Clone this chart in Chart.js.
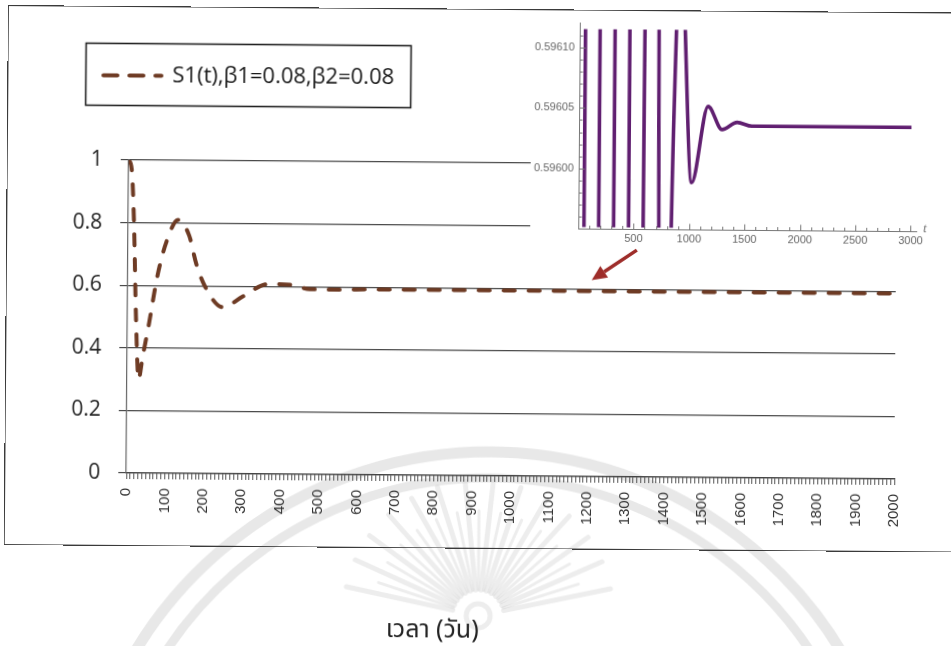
<!DOCTYPE html>
<html>
<head>
<meta charset="utf-8">
<title>S1(t)</title>
<script src="https://cdn.jsdelivr.net/npm/chart.js@4.4.1/dist/chart.umd.min.js"></script>
<style>
  html, body { margin: 0; padding: 0; background: #fff; width: 951px; height: 646px; overflow: hidden; }
  #page { position: absolute; left: 0; top: 0; width: 951px; height: 646px; transform: rotate(0.45deg); transform-origin: 0 0; }
  #main { position: absolute; left: 0; top: 0; }
  #inset { position: absolute; left: 516px; top: 4px; }
  #frame { position: absolute; left: 8px; top: 5px; width: 960px; height: 540px; box-sizing: border-box; border: 1.5px solid #3a3a3a; pointer-events: none; }
</style>
</head>
<body>
<div id="page">
  <canvas id="main" width="951" height="646"></canvas>
  <canvas id="inset" width="435" height="238"></canvas>
  <div id="frame"></div>
</div>
<script>
// ---------- main plot: S1(t) over 0..2000 days ----------
const timeDays = [0, 8, 15, 22, 30, 40, 55, 77, 100, 130, 159, 178, 202, 248, 300, 365, 426, 474, 540, 650, 900, 1300, 1700, 2000];
const s1Values = [1, 0.97, 0.8, 0.5, 0.30, 0.37, 0.47, 0.63, 0.74, 0.81, 0.76, 0.67, 0.596, 0.532, 0.567, 0.607, 0.605, 0.592, 0.591, 0.593, 0.593, 0.593, 0.593, 0.593];
const mainYTicks = [0, 0.2, 0.4, 0.6, 0.8, 1];
const mainXLabels = [0, 100, 200, 300, 400, 500, 600, 700, 800, 900, 1000, 1100, 1200, 1300, 1400, 1500, 1600, 1700, 1800, 1900, 2000];
const seriesLabel = 'S1(t),β1=0.08,β2=0.08';
const axisTitle = 'เวลา (วัน)';

// arrow from the inset down to the settled part of the curve (data coordinates)
const arrowFrom = [1325, 0.725];
const arrowTo = [1208, 0.628];

// ---------- inset: fine detail of S1(t) around its equilibrium, 0..3000 days ----------
const insetTime = [0, 52, 103, 184, 237, 319, 371, 453, 505, 587, 639, 720, 773, 855, 905, 1019, 1164, 1291, 1427, 1560, 3000];
const insetValues = [0.45, 0.59604, 0.726, 0.59604, 0.554, 0.59604, 0.6095, 0.59604, 0.5917, 0.59604, 0.59744, 0.59604, 0.5956, 0.59604, 0.59619, 0.595989, 0.596052, 0.596033, 0.596039, 0.596036, 0.596036];
const insetXLabels = [500, 1000, 1500, 2000, 2500, 3000];
const insetYLabels = [0.596, 0.59605, 0.5961];

// ---------- layout ----------
const MAIN_AREA = { left: 130, top: 159, right: 898, bottom: 472 };
const INSET_AREA = { left: 64, top: 14.5, right: 402, bottom: 220.5 };
const INSET_PANEL_LEFT = 16;   // white panel starts here inside the inset canvas
const LEGEND_FRAME = { left: 86, top: 42, right: 411, bottom: 104 };
const LEGEND_FONT = 22;
const LEGEND_PAD = 10;

Chart.defaults.font.family = "'Open Sans', 'Noto Sans', sans-serif";

function fitArea(chart, want) {
  for (let i = 0; i < 3; i++) {
    const a = chart.chartArea;
    const p = Object.assign({}, chart.options.layout.padding);
    p.left += want.left - a.left;
    p.top += want.top - a.top;
    p.right += a.right - want.right;
    p.bottom += a.bottom - want.bottom;
    chart.options.layout.padding = p;
    chart.update();
  }
}

function drawWatermark(ctx) {
  ctx.save();
  ctx.strokeStyle = 'rgba(200,200,200,0.42)';
  ctx.lineCap = 'round';
  ctx.lineWidth = 11;
  ctx.beginPath(); ctx.arc(495, 860, 412, Math.PI * 1.02, Math.PI * 1.98); ctx.stroke();
  ctx.lineWidth = 9;
  ctx.beginPath(); ctx.arc(495, 860, 386, Math.PI * 1.02, Math.PI * 1.98); ctx.stroke();
  // sun rays behind the axis caption
  ctx.strokeStyle = 'rgba(200,200,200,0.32)';
  const cx = 483, cy = 612;
  for (let a = 192; a <= 348; a += 6) {
    const r = a * Math.PI / 180;
    const r2 = (a % 12 === 0) ? 135 : 105;
    ctx.lineWidth = (a % 12 === 0) ? 5 : 3;
    ctx.beginPath();
    ctx.moveTo(cx + Math.cos(r) * 26, cy + Math.sin(r) * 26);
    ctx.lineTo(cx + Math.cos(r) * r2, cy + Math.sin(r) * r2);
    ctx.stroke();
  }
  ctx.lineWidth = 5;
  ctx.beginPath(); ctx.arc(cx, cy, 12, 0, Math.PI * 2); ctx.stroke();
  ctx.restore();
}

const mainDecor = {
  id: 'mainDecor',
  beforeDraw(chart) {
    drawWatermark(chart.ctx);
  },
  afterLayout(chart) {
    const lg = chart.legend;
    if (!lg) return;
    const w = lg.width, h = lg.height;
    lg.left = LEGEND_FRAME.left + 18 - LEGEND_PAD;
    lg.top = (LEGEND_FRAME.top + LEGEND_FRAME.bottom) / 2 + 1.5 - LEGEND_PAD - LEGEND_FONT / 2;
    lg.right = lg.left + w;
    lg.bottom = lg.top + h;
  },
  afterDraw(chart) {
    const ctx = chart.ctx;
    const xs = chart.scales.x, ys = chart.scales.y;
    ctx.save();
    // legend frame
    ctx.strokeStyle = '#222';
    ctx.lineWidth = 1.6;
    ctx.strokeRect(LEGEND_FRAME.left + 0.5, LEGEND_FRAME.top + 0.5,
      LEGEND_FRAME.right - LEGEND_FRAME.left, LEGEND_FRAME.bottom - LEGEND_FRAME.top);
    // arrow
    const x1 = xs.getPixelForValue(arrowFrom[0]), y1 = ys.getPixelForValue(arrowFrom[1]);
    const x2 = xs.getPixelForValue(arrowTo[0]), y2 = ys.getPixelForValue(arrowTo[1]);
    const ang = Math.atan2(y2 - y1, x2 - x1);
    const head = 15, half = 7;
    const bx = x2 - Math.cos(ang) * head, by = y2 - Math.sin(ang) * head;
    ctx.strokeStyle = '#9e2d2a';
    ctx.fillStyle = '#9e2d2a';
    ctx.lineWidth = 3.5;
    ctx.beginPath(); ctx.moveTo(x1, y1); ctx.lineTo(bx, by); ctx.stroke();
    ctx.beginPath();
    ctx.moveTo(x2, y2);
    ctx.lineTo(bx + Math.sin(ang) * half, by - Math.cos(ang) * half);
    ctx.lineTo(bx - Math.sin(ang) * half, by + Math.cos(ang) * half);
    ctx.closePath(); ctx.fill();
    // axis caption
    ctx.fillStyle = '#222';
    ctx.font = "25px 'Noto Sans Thai', Tahoma, Loma, 'Noto Sans', sans-serif";
    ctx.textAlign = 'center';
    ctx.textBaseline = 'middle';
    ctx.fillText(axisTitle, xs.getPixelForValue(800), 629);
    ctx.restore();
  }
};

const mainChart = new Chart(document.getElementById('main'), {
  type: 'line',
  data: {
    datasets: [{
      label: seriesLabel,
      data: timeDays.map((t, i) => ({ x: t, y: s1Values[i] })),
      borderColor: '#6e3b24',
      backgroundColor: '#6e3b24',
      borderWidth: 4,
      borderDash: [11, 14],
      borderCapStyle: 'round',
      pointRadius: 0,
      cubicInterpolationMode: 'monotone',
      fill: false
    }]
  },
  options: {
    responsive: false,
    devicePixelRatio: 1,
    animation: false,
    events: [],
    layout: { padding: { left: 60, top: 100, right: 40, bottom: 90 } },
    scales: {
      x: {
        type: 'linear',
        min: 0,
        max: 2000,
        afterBuildTicks(scale) {
          const marks = [];
          for (let t = 0; t <= 2000; t += 10) marks.push({ value: t });
          scale.ticks = marks;
        },
        ticks: {
          autoSkip: false,
          minRotation: 90,
          maxRotation: 90,
          padding: 9,
          color: '#333',
          font: { family: "'Liberation Sans', Arial, sans-serif", size: 15 },
          callback: (v) => (mainXLabels.includes(v) ? String(v) : '')
        },
        grid: { drawOnChartArea: false, drawTicks: true, tickLength: 6, color: '#555', lineWidth: 1 },
        border: { display: true, color: '#444', width: 1.2 }
      },
      y: {
        min: 0,
        max: 1,
        afterBuildTicks(scale) {
          scale.ticks = mainYTicks.map((v) => ({ value: v }));
        },
        ticks: {
          padding: 18,
          color: '#222',
          font: { size: 21 },
          callback: (v) => String(v)
        },
        grid: { color: '#4a4a4a', lineWidth: 1.2, tickLength: 8 },
        border: { display: true, color: '#666', width: 1.2 }
      }
    },
    plugins: {
      legend: {
        position: 'top',
        align: 'start',
        labels: {
          usePointStyle: true,
          pointStyle: 'line',
          pointStyleWidth: 58,
          padding: LEGEND_PAD,
          color: '#1a1a1a',
          font: { size: LEGEND_FONT },
          // keep the dashed look of each line in its legend sample
          generateLabels(chart) {
            const items = Chart.defaults.plugins.legend.labels.generateLabels(chart);
            items.forEach((item) => {
              const ds = chart.data.datasets[item.datasetIndex];
              item.pointStyle = 'line';
              item.strokeStyle = ds.borderColor;
              item.lineWidth = ds.borderWidth;
              item.lineCap = ds.borderCapStyle;
              item.lineDash = [14, 12];
            });
            return items;
          }
        }
      },
      tooltip: { enabled: false }
    }
  },
  plugins: [mainDecor]
});
fitArea(mainChart, MAIN_AREA);

// ---------- inset chart ----------
const insetDecor = {
  id: 'insetDecor',
  beforeDraw(chart) {
    const ctx = chart.ctx;
    ctx.save();
    ctx.fillStyle = '#fff';
    ctx.fillRect(INSET_PANEL_LEFT, 0, chart.width - INSET_PANEL_LEFT, chart.height);
    ctx.restore();
  },
  afterDraw(chart) {
    const ctx = chart.ctx;
    const xs = chart.scales.x, ys = chart.scales.y;
    const a = chart.chartArea;
    ctx.save();
    ctx.strokeStyle = '#777';
    ctx.lineWidth = 1;
    // ticks pointing into the plot
    for (let t = 100; t <= 3000; t += 100) {
      const px = Math.round(xs.getPixelForValue(t)) + 0.5;
      const len = t % 500 === 0 ? 6 : 3.5;
      ctx.beginPath(); ctx.moveTo(px, a.bottom); ctx.lineTo(px, a.bottom - len); ctx.stroke();
    }
    for (let k = 1; k <= 16; k++) {
      const v = 0.59595 + k * 0.00001;
      const py = Math.round(ys.getPixelForValue(v)) + 0.5;
      const len = k % 5 === 0 ? 6 : 3.5;
      ctx.beginPath(); ctx.moveTo(a.left, py); ctx.lineTo(a.left + len, py); ctx.stroke();
    }
    // axis name
    ctx.fillStyle = '#666';
    ctx.font = "italic 12px 'Liberation Serif', serif";
    ctx.textAlign = 'left';
    ctx.textBaseline = 'middle';
    ctx.fillText('t', a.right + 7, a.bottom - 3);
    ctx.restore();
  }
};

const insetChart = new Chart(document.getElementById('inset'), {
  type: 'line',
  data: {
    datasets: [{
      label: 'S1(t)',
      data: insetTime.map((t, i) => ({ x: t, y: insetValues[i] })),
      borderColor: '#601f70',
      borderWidth: 3.6,
      pointRadius: 0,
      cubicInterpolationMode: 'monotone',
      fill: false,
      clip: { left: 0, top: -6, right: 0, bottom: -2 }
    }]
  },
  options: {
    responsive: false,
    devicePixelRatio: 1,
    animation: false,
    events: [],
    layout: { padding: { left: 10, top: 14, right: 30, bottom: 4 } },
    scales: {
      x: {
        type: 'linear',
        min: 0,
        max: 3050,
        afterBuildTicks(scale) {
          scale.ticks = insetXLabels.map((v) => ({ value: v }));
        },
        ticks: {
          autoSkip: false,
          maxRotation: 0,
          padding: 3,
          color: '#666',
          font: { family: "'Liberation Sans', Arial, sans-serif", size: 11 },
          callback: (v) => String(v)
        },
        grid: { display: false, drawTicks: false },
        border: { display: true, color: '#777', width: 1 }
      },
      y: {
        min: 0.59595,
        max: 0.59612,
        afterBuildTicks(scale) {
          scale.ticks = insetYLabels.map((v) => ({ value: v }));
        },
        ticks: {
          padding: 5,
          color: '#666',
          font: { family: "'Liberation Sans', Arial, sans-serif", size: 11 },
          callback: (v) => Number(v).toFixed(5)
        },
        grid: { display: false, drawTicks: false },
        border: { display: true, color: '#777', width: 1 }
      }
    },
    plugins: { legend: { display: false }, tooltip: { enabled: false } }
  },
  plugins: [insetDecor]
});
fitArea(insetChart, INSET_AREA);
</script>
</body>
</html>
